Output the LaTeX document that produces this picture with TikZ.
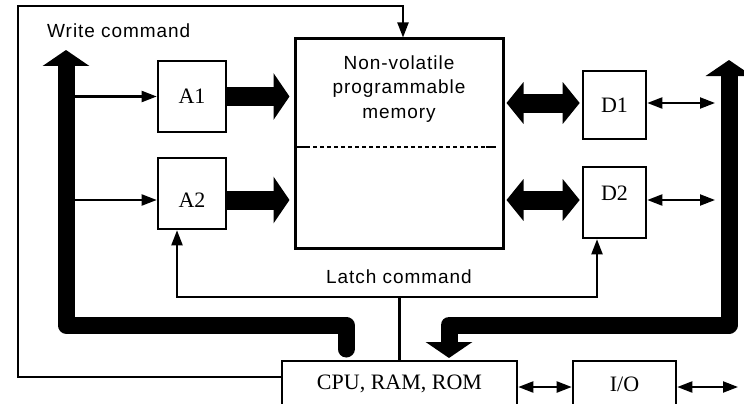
\documentclass[tikz,border=0pt]{standalone}
\usepackage{fontspec}
\setmainfont{Liberation Serif}
\newfontfamily\lblfont[LetterSpace=5]{Liberation Sans}
\usetikzlibrary{arrows.meta,calc}
\begin{document}
\begin{tikzpicture}[x=1pt,y=-1pt,
  box/.style={draw, line width=2.6pt, inner sep=0pt, font=\fontsize{22}{26}\selectfont},
  serif/.style={inner sep=0pt, font=\fontsize{22}{26}\selectfont},
  lbl/.style={inner sep=0pt, font=\lblfont\fontsize{19}{24.5}\selectfont},
  wire/.style={line width=2.1pt},
  smalltip/.tip={Triangle[length=15pt,width=11pt]},
  bigtip/.tip={Triangle[length=16pt,width=46pt]},
  dbltip/.tip={Triangle[length=17pt,width=41pt]},
  fat/.style={line width=19pt},
  bus/.style={line width=17pt, line join=round}
]
\useasboundingbox (0,0) rectangle (744,404);

% blocks
\node[box, line width=3pt, minimum width=208pt, minimum height=209pt] (mem) at (399,143.5) {};
\node[lbl, align=center] (memtext) at (399,89) {Non-volatile\\programmable\\memory};
\node[box, minimum width=68pt, minimum height=71pt] (A1) at (192,96.5) {A1};
\node[box, minimum width=68pt, minimum height=71pt] (A2) at (192,193.5) {};
\node[serif] (A2t) at (192,200) {A2};
\node[box, minimum width=63pt, minimum height=68pt] (D1) at (614.5,105) {D1};
\node[box, minimum width=63pt, minimum height=71pt] (D2) at (614.5,202.5) {};
\node[serif] (D2t) at (614.5,193) {D2};
\node[box, minimum width=235pt, minimum height=46pt] (cpu) at (399.5,384) {CPU, RAM, ROM};
\node[box, minimum width=103pt, minimum height=46pt] (io) at (624.5,384) {I/O};

% dashed divider in memory
\draw[line width=1.2pt, dash pattern=on 4pt off 3pt] (306,147) -- (486,147);
\draw[line width=2.4pt] (297,147) -- (306,147) (486,147) -- (496,147);

% labels
\node[lbl, anchor=west] (wcl) at (47,31) {Write command};
\node[lbl] (lcl) at (399,277) {Latch command};

% write command line
\draw[wire, -smalltip] ([yshift=7pt]cpu.west) -| (18,6) -| ([xshift=4pt]mem.north);

% latch command lines
\coordinate (lj) at (399.5,297);
\draw[wire] (cpu.north) -- (lj);
\draw[wire, -smalltip] (lj) -| ([xshift=-15pt]A2.south);
\draw[wire, -smalltip] (lj) -| ([xshift=-17.5pt]D2.south);

% buses
\coordinate (lbtop) at (66,50);
\coordinate (lbbot) at (346,349);
\coordinate (rbtop) at (729,60);
\coordinate (rbbot) at (449,358);
\draw[bus, line cap=round, -bigtip] (lbbot) -- (346,325) -- (66,325) -- (lbtop);
\draw[bus, bigtip-bigtip] (rbbot) -- (449,325) -- (729,325) -- (rbtop);

% bus to address latches
\draw[wire, -smalltip] (74.5,96.5) -- (A1.west);
\draw[wire, -smalltip] (74.5,200) -- ([yshift=-6.5pt]A2.west);

% address latches to memory
\draw[fat, -bigtip] (A1.east) -- ($(A1.east -| mem.west)+(-4,0)$);
\draw[fat, -bigtip] ([yshift=-6.5pt]A2.east) -- ($(A2.east -| mem.west)+(-4,6.5)$);

% memory to data latches
\draw[fat, dbltip-dbltip] ($(D1.west -| mem.east)+(2,-2)$) -- ($(D1.west)+(-2,-2)$);
\draw[fat, dbltip-dbltip] ($(D2.west -| mem.east)+(2,-2.5)$) -- ($(D2.west)+(-2,-2.5)$);

% data latches to bus
\coordinate (d1r) at (715,103);
\coordinate (d2r) at (715,200);
\draw[wire, smalltip-smalltip] ([yshift=2pt]D1.east) -- (d1r);
\draw[wire, smalltip-smalltip] ([yshift=2.5pt]D2.east) -- (d2r);

% CPU - I/O
\coordinate (ior) at (738,387);
\draw[wire, smalltip-smalltip] ([yshift=-3pt]cpu.east) -- ([yshift=-3pt]io.west);
\draw[wire, smalltip-smalltip] ([yshift=-3pt]io.east) -- (ior);
\end{tikzpicture}
\end{document}
